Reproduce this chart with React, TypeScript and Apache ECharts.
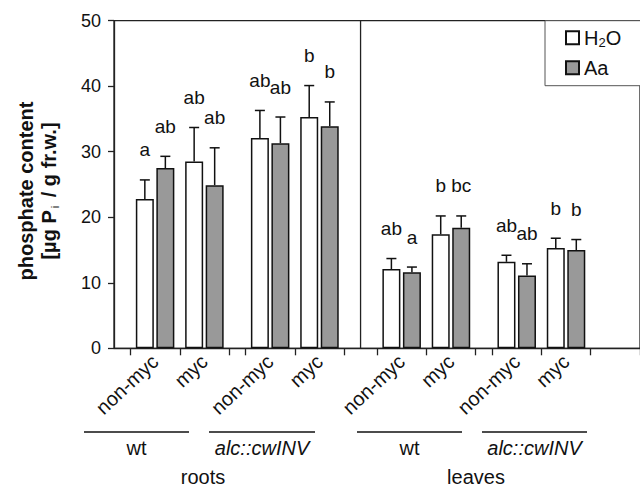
import React, { useEffect, useRef } from "react";
import * as echarts from "echarts";

// ---- data ----
const groupLabels = ["non-myc", "myc", "non-myc", "myc", "non-myc", "myc", "non-myc", "myc"];
const h2oValues = [22.8, 28.5, 32.1, 35.3, 12.1, 17.4, 13.2, 15.3];
const h2oErrors = [2.9, 5.2, 4.2, 4.8, 1.6, 2.8, 1.0, 1.5];
const aaValues = [27.5, 24.9, 31.3, 33.9, 11.6, 18.4, 11.1, 15.0];
const aaErrors = [1.8, 5.7, 4.0, 3.7, 0.8, 1.8, 1.8, 1.6];
const h2oLetters = ["a", "ab", "ab", "b", "ab", "b", "ab", "b"];
const aaLetters = ["ab", "ab", "ab", "b", "a", "bc", "ab", "b"];
const genotypeLabels = ["wt", "alc::cwINV", "wt", "alc::cwINV"];
const tissueLabels = ["roots", "leaves"];
const yMin = 0;
const yMax = 50;
const yStep = 10;

// ---- layout (category slots on the x axis) ----
const SLOT_COUNT = 32;
const groupSlots = [2, 5, 9, 12, 17, 20, 24, 27];
const tickBoundaries = [1, 4, 7, 8, 11, 14, 16, 19, 22, 23, 26, 29];
const dividerBoundary = 15;

const FONT = "'Liberation Sans', Arial, Helvetica, sans-serif";
const INK = "#111";
const BAR_W = 18;
const BAR_GAP_PCT = 0.14;
const HALF_OFF = (BAR_W + BAR_W * BAR_GAP_PCT) / 2;

function slotArray<T>(vals: T[]): (T | null)[] {
  const arr: (T | null)[] = new Array(SLOT_COUNT).fill(null);
  groupSlots.forEach((s, i) => (arr[s] = vals[i]));
  return arr;
}

export default function App() {
  const ref = useRef<HTMLDivElement>(null);

  useEffect(() => {
    if (!ref.current) return;
    const chart = echarts.init(ref.current, undefined, { renderer: "svg" });

    const categories = slotArray(groupLabels).map((v) => (v == null ? "" : v));

    const errorSeries = (name: string, vals: number[], errs: number[], letters: string[], sign: number) => ({
      type: "custom",
      name: name + " error",
      z: 5,
      silent: true,
      encode: { x: 0, y: 1 },
      data: vals.map((v, i) => [groupSlots[i], v, errs[i]]),
      renderItem: (params: any, api: any) => {
        const x = api.value(0);
        const v = api.value(1);
        const e = api.value(2);
        const base = api.coord([x, v]);
        const top = api.coord([x, v + e]);
        const cx = base[0] + sign * HALF_OFF;
        const ls = { stroke: INK, lineWidth: 1.5 };
        return {
          type: "group",
          children: [
            { type: "line", shape: { x1: cx, y1: base[1], x2: cx, y2: top[1] }, style: ls },
            { type: "line", shape: { x1: cx - 5, y1: top[1], x2: cx + 5, y2: top[1] }, style: ls },
            {
              type: "text",
              x: cx,
              y: top[1] - 30,
              style: {
                text: letters[params.dataIndex],
                textAlign: "center",
                textVerticalAlign: "middle",
                fontSize: 19,
                fontFamily: FONT,
                fill: INK,
              },
            },
          ],
        };
      },
    });

    const lineY = 432;
    const genoLines = [
      [84, 189],
      [209, 315],
      [357, 462],
      [482, 587],
    ];
    const graphics: any[] = [];
    genoLines.forEach((ln, i) => {
      graphics.push({
        type: "line",
        shape: { x1: ln[0], y1: lineY, x2: ln[1], y2: lineY },
        style: { stroke: INK, lineWidth: 1.3 },
      });
      graphics.push({
        type: "text",
        x: (ln[0] + ln[1]) / 2,
        y: 448,
        style: {
          text: genotypeLabels[i],
          textAlign: "center",
          textVerticalAlign: "middle",
          fontSize: 20,
          fontStyle: i % 2 === 1 ? "italic" : "normal",
          fontFamily: FONT,
          fill: INK,
        },
      });
    });
    [203, 476].forEach((x, i) => {
      graphics.push({
        type: "text",
        x,
        y: 477,
        style: {
          text: tissueLabels[i],
          textAlign: "center",
          textVerticalAlign: "middle",
          fontSize: 20,
          fontFamily: FONT,
          fill: INK,
        },
      });
    });
    graphics.push({
      type: "text",
      x: 37,
      y: 191,
      rotation: Math.PI / 2,
      style: {
        text: "phosphate content\n[µg P{sub|i} / g fr.w.]",
        textAlign: "center",
        textVerticalAlign: "middle",
        fontSize: 20,
        fontWeight: "bold",
        fontFamily: FONT,
        fill: INK,
        lineHeight: 23,
        rich: {
          sub: { fontSize: 11, fontWeight: "normal", verticalAlign: "bottom", lineHeight: 23, padding: [0, 3, 0, 2] },
        },
      },
    });

    chart.setOption({
      animation: false,
      backgroundColor: "#fff",
      textStyle: { fontFamily: FONT, color: INK },
      grid: {
        left: 114,
        top: 20.7,
        width: SLOT_COUNT * 17.75,
        height: 327.6,
        show: true,
        borderColor: "#222",
        borderWidth: 1.3,
        backgroundColor: "transparent",
        containLabel: false,
      },
      legend: {
        orient: "vertical",
        left: 545,
        top: 20.7,
        data: ["H2O", "Aa"],
        icon: "rect",
        itemWidth: 13,
        itemHeight: 13,
        itemGap: 8,
        padding: [6, 60, 7, 20],
        borderColor: "#555",
        borderWidth: 1,
        backgroundColor: "#fff",
        formatter: (name: string) => (name === "H2O" ? "H{sub|2}O" : name),
        textStyle: {
          fontSize: 20,
          fontFamily: FONT,
          color: INK,
          lineHeight: 22,
          rich: { sub: { fontSize: 13, verticalAlign: "bottom", lineHeight: 22 } },
        },
      },
      xAxis: {
        type: "category",
        data: categories,
        boundaryGap: true,
        axisLine: { show: true, lineStyle: { color: "#222", width: 1.3 } },
        axisTick: {
          show: true,
          length: 7,
          interval: (i: number) => tickBoundaries.includes(i),
          lineStyle: { color: "#222", width: 1.3 },
        },
        axisLabel: {
          interval: 0,
          rotate: 43,
          fontSize: 20,
          margin: 10,
          color: INK,
          fontFamily: FONT,
        },
        splitLine: { show: false },
      },
      yAxis: {
        type: "value",
        min: yMin,
        max: yMax,
        interval: yStep,
        axisLine: { show: true, lineStyle: { color: "#222", width: 1.3 } },
        axisTick: { show: true, length: 6, lineStyle: { color: "#222", width: 1.3 } },
        axisLabel: { fontSize: 18, margin: 13, color: INK, fontFamily: FONT },
        splitLine: { show: false },
      },
      series: [
        {
          type: "bar",
          name: "H2O",
          data: slotArray(h2oValues),
          barWidth: BAR_W,
          barGap: BAR_GAP_PCT * 100 + "%",
          itemStyle: { color: "#fff", borderColor: INK, borderWidth: 1.5 },
        },
        {
          type: "bar",
          name: "Aa",
          data: slotArray(aaValues),
          barWidth: BAR_W,
          barGap: BAR_GAP_PCT * 100 + "%",
          itemStyle: { color: "#999999", borderColor: INK, borderWidth: 1.5 },
        },
        errorSeries("H2O", h2oValues, h2oErrors, h2oLetters, -1),
        errorSeries("Aa", aaValues, aaErrors, aaLetters, 1),
        {
          type: "custom",
          name: "divider",
          silent: true,
          z: 1,
          encode: { x: 0, y: 1 },
          data: [[dividerBoundary, yMax]],
          renderItem: (params: any, api: any) => {
            const topPt = api.coord([api.value(0), api.value(1)]);
            const basePt = api.coord([api.value(0), yMin]);
            const band = api.size([1, 0])[0];
            const x = topPt[0] - band / 2;
            return {
              type: "line",
              shape: { x1: x, y1: topPt[1], x2: x, y2: basePt[1] },
              style: { stroke: "#222", lineWidth: 1.3 },
            };
          },
        },
      ],
      graphic: graphics,
    });

    return () => chart.dispose();
  }, []);

  return (
    <div
      ref={ref}
      style={{ position: "fixed", left: 0, top: 0, width: 640, height: 488, background: "#fff" }}
    />
  );
}
